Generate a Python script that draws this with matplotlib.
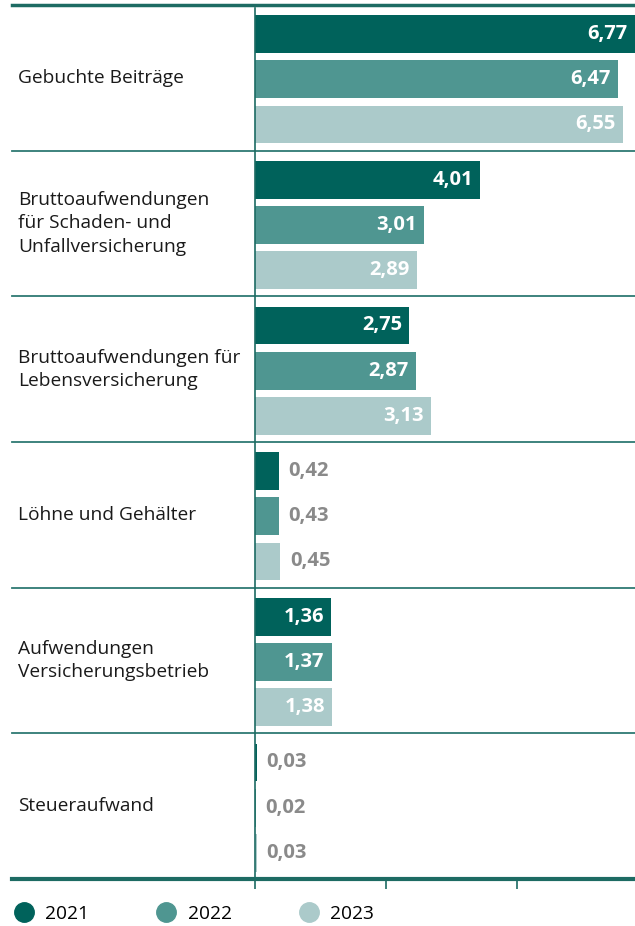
import numpy as np
import matplotlib
matplotlib.use("Agg")
import matplotlib.pyplot as plt
import matplotlib.transforms as mtransforms
from matplotlib.lines import Line2D

plt.rcParams['font.family'] = ['Open Sans', 'DejaVu Sans']

categories = ["Gebuchte Beiträge",
              "Bruttoaufwendungen\nfür Schaden- und\nUnfallversicherung",
              "Bruttoaufwendungen für\nLebensversicherung",
              "Löhne und Gehälter",
              "Aufwendungen\nVersicherungsbetrieb",
              "Steueraufwand"]
years = ["2021", "2022", "2023"]
v2021 = [6.77, 4.01, 2.75, 0.42, 1.36, 0.03]
v2022 = [6.47, 3.01, 2.87, 0.43, 1.37, 0.02]
v2023 = [6.55, 2.89, 3.13, 0.45, 1.38, 0.03]

colors = ["#00625b", "#4f9691", "#abcaca"]
line_col = "#2e7a73"
dark_line = "#1d6b63"

fig = plt.figure(figsize=(6.35, 9.26), dpi=100)
ax = fig.add_axes([255/635, 1 - 879/926, 380/635, 874/926])

n = len(categories)
ax.set_ylim(n, 0)
ax.set_xlim(0, 6.77)

offsets = [0.2, 0.51, 0.82]
bh = 0.26
for j, vals in enumerate([v2021, v2022, v2023]):
    ys = np.arange(n) + offsets[j]
    ax.barh(ys, vals, height=bh, color=colors[j], zorder=2)
    for y, v in zip(ys, vals):
        lab = f"{v:.2f}".replace(".", ",")
        if v > 1:
            ax.text(v - 0.13, y, lab, ha="right", va="center", color="white",
                    fontsize=14.5, fontweight="bold", zorder=3)
        else:
            ax.text(v + 0.17, y, lab, ha="left", va="center", color="#8a8a8a",
                    fontsize=14.5, fontweight="bold", zorder=3)

trans = mtransforms.blended_transform_factory(ax.transAxes, ax.transData)
x_left = (12 - 255) / 380
# separators between groups
for k in range(1, n):
    ax.plot([x_left, 1], [k, k], transform=trans, color=line_col, lw=1.3,
            clip_on=False, zorder=1)
# top and bottom rules
ax.plot([x_left, 1], [0, 0], transform=trans, color=dark_line, lw=2.5,
        clip_on=False, zorder=4)
ax.plot([x_left, 1], [n, n], transform=trans, color=dark_line, lw=3,
        clip_on=False, zorder=4)

for k, cat in enumerate(categories):
    ax.text((18 - 255) / 380, k + 0.5, cat, transform=trans, ha="left",
            va="center", fontsize=13.8, color="#1a1a1a", linespacing=1.36)

for s in ["top", "right", "bottom"]:
    ax.spines[s].set_visible(False)
ax.spines["left"].set_color(dark_line)
ax.spines["left"].set_linewidth(1.2)
ax.spines["left"].set_bounds(n, 0.02)
ax.set_yticks([])
ax.set_xticks([0, 2.33, 4.67])
ax.set_xticklabels([])
ax.tick_params(axis="x", direction="out", length=7, width=1.2, color=dark_line)

handles = [Line2D([], [], marker="o", linestyle="", markersize=14,
                  markerfacecolor=c, markeredgecolor=c) for c in colors]
fig.legend(handles, years, loc="center left", bbox_to_anchor=(-5/635, 1 - 914/926),
           ncol=3, frameon=False, fontsize=13.8, handletextpad=0.5,
           columnspacing=3.45, handlelength=1.2)

fig.savefig("out.png", dpi=100)
